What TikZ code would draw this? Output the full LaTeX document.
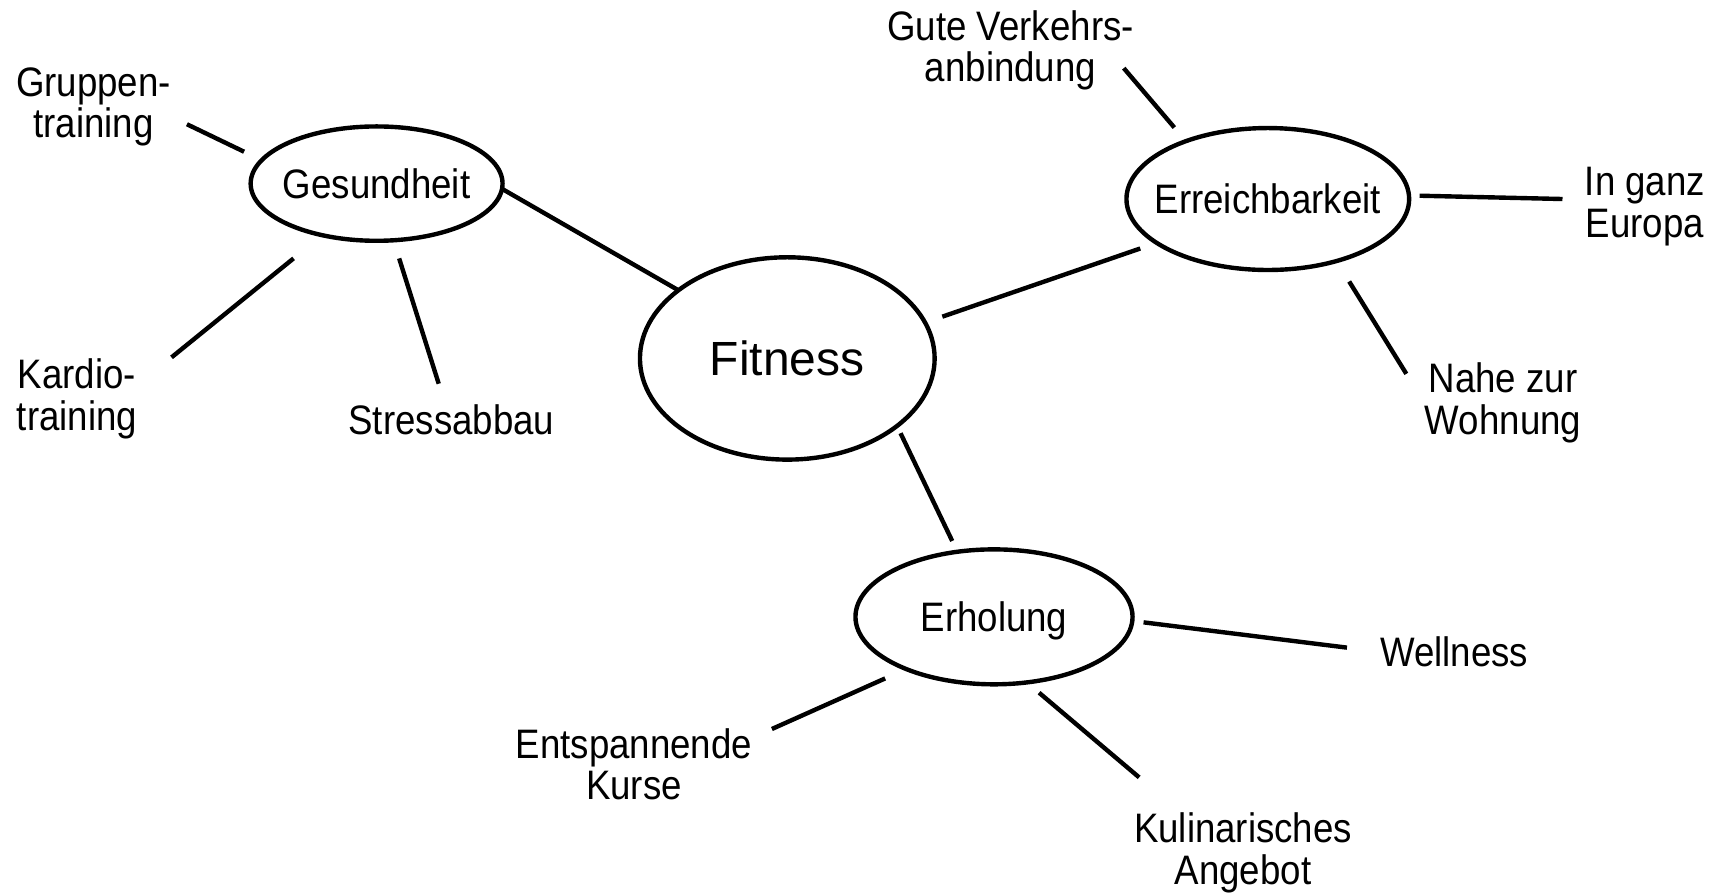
\documentclass[tikz,border=0pt]{standalone}
\usepackage{fontspec}
\setmainfont{Liberation Sans}
\newfontfamily\labelfont{Liberation Sans}[FakeStretch=0.89]
\usetikzlibrary{shapes.geometric}

\begin{document}
\begin{tikzpicture}[x=0.55pt,y=-0.55pt,
  hub/.style={ellipse,draw,line width=2.2pt,inner sep=0pt},
  hubtext/.style={text height=14.75pt,text depth=0pt,inner sep=0pt,
    font=\labelfont\fontsize{20.6}{20.8}\selectfont},
  leaf/.style={anchor=north,inner sep=0pt,align=center,
    font=\labelfont\fontsize{20.6}{20.8}\selectfont},
  link/.style={line width=2.2pt}]
\useasboundingbox (0,0) rectangle (1567,812);
% hubs
\node[hub,minimum width=147.4pt,minimum height=101.2pt,
  label={[hubtext,text height=17.2pt,font=\fontsize{24}{28}\selectfont]center:Fitness}] (fit) at (716,326) {};
\node[hub,minimum width=126pt,minimum height=57.2pt,
  label={[hubtext]center:Gesundheit}] (ges) at (342.5,167) {};
\node[hub,minimum width=141.4pt,minimum height=71pt,
  label={[hubtext]center:Erreichbarkeit}] (err) at (1153,181) {};
\node[hub,minimum width=138.6pt,minimum height=67.5pt,
  label={[hubtext]center:Erholung}] (erh) at (904,561) {};
% leaves
\node[leaf] (gru) at (85,61) {Gruppen-\\training};
\node[leaf] (kar) at (70,326) {Kardio-\\training};
\node[leaf] (str) at (410.5,368) {Stressabbau};
\node[leaf] (gut) at (919,9) {Gute Verkehrs-\\anbindung};
\node[leaf] (eur) at (1496,151.6) {In ganz\\Europa};
\node[leaf] (woh) at (1367,329.5) {Nahe zur\\Wohnung};
\node[leaf] (wel) at (1322.5,579) {Wellness};
\node[leaf] (kur) at (576.5,662) {Entspannende\\Kurse};
\node[leaf] (ang) at (1130.5,739) {Kulinarisches\\Angebot};
% line ends
\coordinate (gesF) at (457,172);  \coordinate (fitG) at (617,264);
\coordinate (fitE) at (857,288);  \coordinate (errF) at (1037,226);
\coordinate (fitH) at (819,394);  \coordinate (erhF) at (866,492);
\coordinate (gruG) at (170,113);  \coordinate (gesR) at (222,138);
\coordinate (karG) at (156,325);  \coordinate (gesK) at (267,235);
\coordinate (gesS) at (363,235);  \coordinate (strG) at (399,349);
\coordinate (gutE) at (1022,62);  \coordinate (errV) at (1068,116);
\coordinate (errI) at (1291,178); \coordinate (eurE) at (1421,181);
\coordinate (errN) at (1227,256); \coordinate (wohE) at (1279,340);
\coordinate (erhW) at (1040,566); \coordinate (welE) at (1225,589);
\coordinate (kurH) at (702,663);  \coordinate (erhK) at (805,617);
\coordinate (erhA) at (945,630);  \coordinate (angH) at (1036,707);
% connectors
\draw[link] (gesF) -- (fitG);
\draw[link] (fitE) -- (errF);
\draw[link] (fitH) -- (erhF);
\draw[link] (gruG) -- (gesR);
\draw[link] (karG) -- (gesK);
\draw[link] (gesS) -- (strG);
\draw[link] (gutE) -- (errV);
\draw[link] (errI) -- (eurE);
\draw[link] (errN) -- (wohE);
\draw[link] (erhW) -- (welE);
\draw[link] (kurH) -- (erhK);
\draw[link] (erhA) -- (angH);
\end{tikzpicture}
\end{document}
